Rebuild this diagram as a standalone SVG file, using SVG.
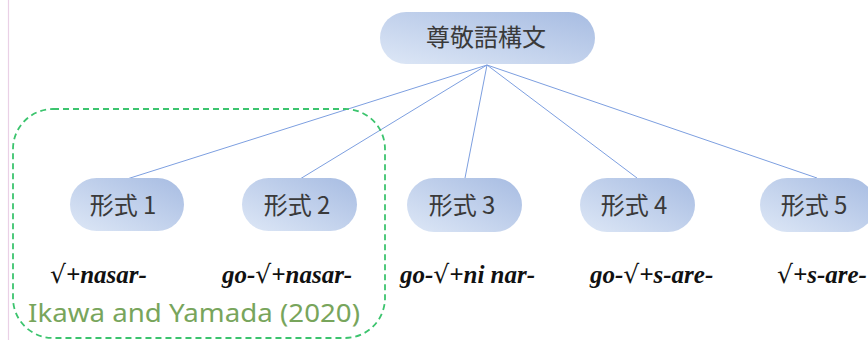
<svg xmlns="http://www.w3.org/2000/svg" width="868" height="340" viewBox="0 0 868 340">
<defs>
<linearGradient id="g" x1="0" y1="1" x2="1" y2="0">
<stop offset="0" stop-color="#dde7f6"/>
<stop offset="1" stop-color="#a7bce2"/>
</linearGradient>
<style>
.n{fill:url(#g);}
.jt{font-family:"Noto Sans CJK JP","Noto Sans CJK SC",sans-serif;font-size:24px;fill:#3a3a3a;text-anchor:middle;}
.ex{font-family:'Liberation Serif','Times New Roman',serif;font-size:25px;font-weight:bold;font-style:italic;fill:#111;}
.t{font-family:'Liberation Serif','Times New Roman',serif;font-weight:bold;font-style:italic;}
.r{font-family:'DejaVu Serif',serif;font-style:normal;font-weight:normal;}
.c line{stroke:#7d9fe0;stroke-width:1;}
</style>
</defs>
<rect width="868" height="340" fill="#fff"/>
<line x1="8.5" y1="0" x2="8.5" y2="340" stroke="#ead0e6" stroke-width="1.2"/>
<g class="c" id="connectors">
<line x1="487" y1="65" x2="127" y2="179"/>
<line x1="487" y1="65" x2="300" y2="179"/>
<line x1="487" y1="65" x2="465" y2="178"/>
<line x1="487" y1="65" x2="637" y2="178"/>
<line x1="487" y1="65" x2="817" y2="178"/>
</g>
<g id="root"><rect class="n" x="380" y="12" width="215" height="52" rx="26"/><text class="jt" x="486" y="46">尊敬語構文</text></g>
<g id="f1"><rect class="n" x="70" y="178" width="114" height="53" rx="26.5"/><text class="jt" x="123" y="214">形式 1</text></g>
<g id="f2"><rect class="n" x="242" y="178" width="115" height="53" rx="26.5"/><text class="jt" x="297" y="214">形式 2</text></g>
<g id="f3"><rect class="n" x="407" y="178" width="115" height="54" rx="27"/><text class="jt" x="462" y="214">形式 3</text></g>
<g id="f4"><rect class="n" x="580" y="178" width="115" height="54" rx="27"/><text class="jt" x="634" y="214">形式 4</text></g>
<g id="f5"><rect class="n" x="760" y="178" width="115" height="54" rx="27"/><text class="jt" x="814" y="214">形式 5</text></g>
<g id="examples">
<text class="ex" x="50" y="283"><tspan class="r">√</tspan><tspan class="t">+nasar-</tspan></text>
<text class="ex" x="222" y="283"><tspan class="t">go-</tspan><tspan class="r">√</tspan><tspan class="t">+nasar-</tspan></text>
<text class="ex" x="400" y="283"><tspan class="t">go-</tspan><tspan class="r">√</tspan><tspan class="t">+ni nar-</tspan></text>
<text class="ex" x="590" y="283"><tspan class="t">go-</tspan><tspan class="r">√</tspan><tspan class="t">+s-are-</tspan></text>
<text class="ex" x="777" y="283"><tspan class="r">√</tspan><tspan class="t">+s-are-</tspan></text>
</g>
<g id="group">
<rect x="13" y="109" width="372" height="229" rx="40" fill="none" stroke="#3cc46e" stroke-width="1.8" stroke-dasharray="6,4"/>
<text x="28" y="322" font-family="Noto Sans, Liberation Sans, sans-serif" font-size="26" fill="#78a55c" textLength="332" lengthAdjust="spacingAndGlyphs">Ikawa and Yamada (2020)</text>
</g>
</svg>
